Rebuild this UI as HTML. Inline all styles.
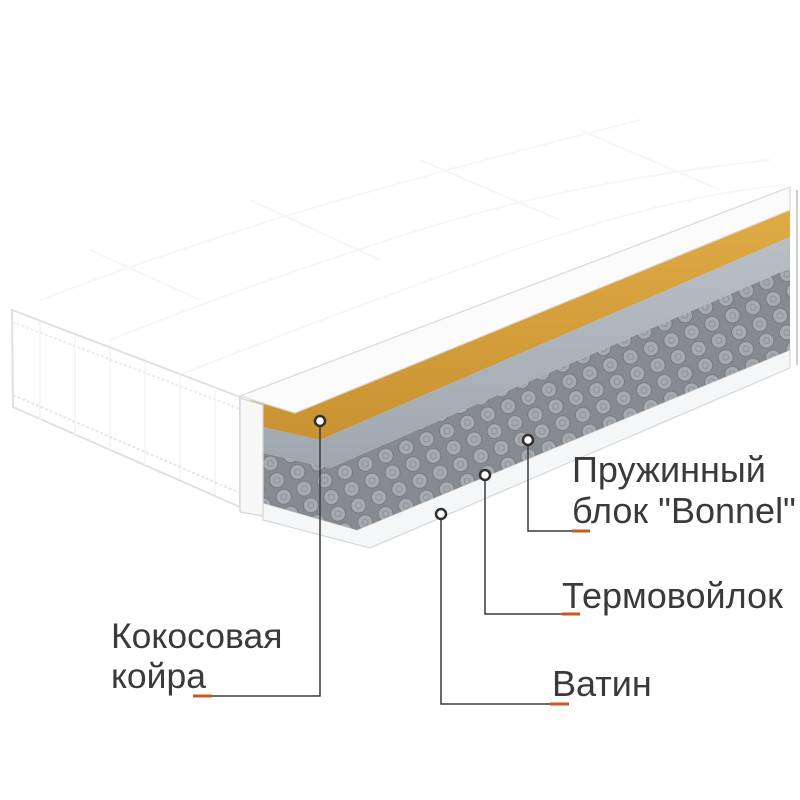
<!DOCTYPE html>
<html><head><meta charset="utf-8"><style>
html,body{margin:0;padding:0;background:#fff}
svg{display:block}
text{font-family:"Liberation Sans",sans-serif;fill:#3a3a3a}
</style></head><body>
<svg width="800" height="800" viewBox="0 0 800 800" xmlns="http://www.w3.org/2000/svg">
<defs>
<pattern id="spr" width="22" height="18" patternUnits="userSpaceOnUse" patternTransform="rotate(-22)">
<rect width="22" height="18" fill="#868b92"/>
<circle cx="11" cy="9" r="7.5" fill="#a6abb1" stroke="#74797f" stroke-width="1"/>
<circle cx="11" cy="9" r="3" fill="none" stroke="#8c9197" stroke-width="1"/>
</pattern>
<linearGradient id="felt" x1="0" y1="0" x2="0" y2="1">
<stop offset="0" stop-color="#b9bfc6"/><stop offset="1" stop-color="#a0a7af"/>
</linearGradient>
<linearGradient id="coir" x1="0" y1="0" x2="0" y2="1">
<stop offset="0" stop-color="#dfab45"/><stop offset="1" stop-color="#c99232"/>
</linearGradient>
</defs>
<rect width="800" height="800" fill="#fff"/>
<g stroke="#f6f6f6" stroke-width="2" fill="none">
<path d="M40,300 Q200,240 340,200 T640,120"/>
<path d="M110,340 Q260,280 420,230 T770,160"/>
<path d="M180,375 Q330,315 500,255 T785,185"/>
<path d="M90,250 L200,300 M250,200 L380,260 M420,160 L560,220 M580,130 L720,190"/>
</g>
<polygon points="12,310 240,397 240,507 13,407" fill="#fff" stroke="#e0e0e0" stroke-width="2"/>
<g stroke="#f2f2f2" stroke-width="1.5">
<line x1="40" y1="322" x2="40" y2="420"/><line x1="75" y1="335" x2="75" y2="435"/>
<line x1="110" y1="348" x2="110" y2="450"/><line x1="145" y1="361" x2="145" y2="465"/>
<line x1="180" y1="374" x2="180" y2="480"/><line x1="215" y1="387" x2="215" y2="495"/>
</g>
<polyline points="13,395 240,493" stroke="#e6e6e6" stroke-width="2" fill="none" stroke-dasharray="3 2"/>
<polyline points="12,322 240,409" stroke="#ececec" stroke-width="2" fill="none" stroke-dasharray="3 2"/>
<polygon points="263,503 357,530 790,350 790,368 370,548 263,520" fill="#f5f6f7" stroke="#d6d8db" stroke-width="1.2"/>
<polygon points="263,453 330,468 790,268 790,350 357,530 263,503" fill="url(#spr)"/>
<polygon points="263,427 320,440 790,237 790,268 330,468 263,453" fill="url(#felt)"/>
<polygon points="250,400 295,413 790,210 790,237 320,440 263,427" fill="url(#coir)"/>
<polygon points="240,396 790,187 790,210 295,413" fill="#fbfbfb" stroke="#d8d8d8" stroke-width="1.2"/>
<polygon points="240,398 263,405 263,516 240,512" fill="#f7f7f7" stroke="#d5d5d5" stroke-width="1.2"/>
<line x1="797" y1="190" x2="797" y2="365" stroke="#cfcfcf" stroke-width="2"/>
<g stroke="#3a3a3a" stroke-width="1.5" fill="none">
<polyline points="320,421 320,696 193,696"/>
<polyline points="528,440 528,531 572,531"/>
<polyline points="485,475 485,614 562,614"/>
<polyline points="441,514 441,704 550,704"/>
</g>
<g stroke="#c85a1e" stroke-width="3">
<line x1="193" y1="696" x2="212" y2="696"/>
<line x1="572" y1="531" x2="590" y2="531"/>
<line x1="562" y1="614" x2="580" y2="614"/>
<line x1="550" y1="704" x2="569" y2="704"/>
</g>
<g fill="#fff" stroke="#2f2f2f" stroke-width="2.5">
<circle cx="320" cy="421" r="5"/>
<circle cx="528" cy="440" r="5"/>
<circle cx="485" cy="475" r="5"/>
<circle cx="441" cy="514" r="5"/>
</g>
<text x="111" y="648" font-size="35.5">Кокосовая</text>
<text x="111" y="688" font-size="35.5">койра</text>
<text x="572" y="482" font-size="36">Пружинный</text>
<text x="572" y="523" font-size="36">блок "Bonnel"</text>
<text x="562" y="608" font-size="36">Термовойлок</text>
<text x="552" y="696" font-size="36">Ватин</text>
</svg>
</body></html>
